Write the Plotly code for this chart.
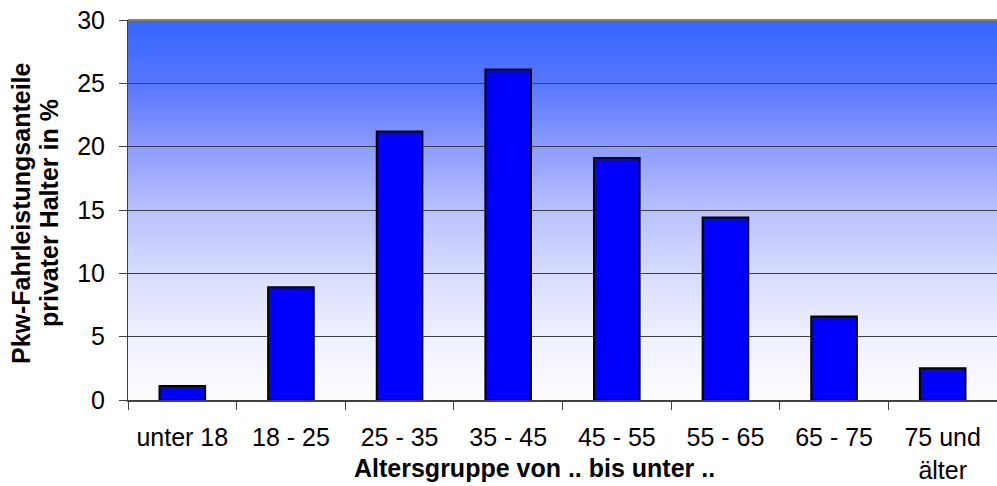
import plotly.graph_objects as go

categories = ["unter 18", "18 - 25", "25 - 35", "35 - 45", "45 - 55", "55 - 65", "65 - 75", "75 und<br>älter"]
values = [1.1, 8.9, 21.2, 26.1, 19.1, 14.4, 6.6, 2.5]
y_ticks = [0, 5, 10, 15, 20, 25, 30]
x_title = "Altersgruppe von .. bis unter .."
y_title_lines = ["Pkw-Fahrleistungsanteile", "privater Halter in %"]

FONT = "Liberation Sans, Arial, sans-serif"

# gradient background stops (fraction from bottom, rgb)
stops = [(0.0, (252, 252, 255)), (1/6, (238, 240, 255)), (2/6, (215, 220, 255)),
         (3/6, (185, 192, 255)), (4/6, (140, 155, 255)), (5/6, (88, 118, 255)),
         (1.0, (51, 102, 255))]

def col(f):
    for (f0, c0), (f1, c1) in zip(stops[:-1], stops[1:]):
        if f0 <= f <= f1:
            t = (f - f0) / (f1 - f0)
            return "rgb(%d,%d,%d)" % tuple(round(a + (b - a) * t) for a, b in zip(c0, c1))
    return "rgb(%d,%d,%d)" % stops[-1][1]

shapes = []
N = 120
for i in range(N):
    f0, f1 = i / N, (i + 1) / N
    shapes.append(dict(type="rect", xref="x domain", yref="y domain", x0=0, x1=1,
                       y0=f0, y1=min(f1 + 0.002, 1), fillcolor=col((f0 + f1) / 2),
                       line=dict(width=0), layer="below"))
shapes.append(dict(type="line", xref="x domain", yref="y domain", x0=0, x1=1, y0=1, y1=1,
                   line=dict(color="#808080", width=2), layer="above"))

fig = go.Figure(go.Bar(x=categories, y=values, width=0.42,
                       marker=dict(color="#0000FF", line=dict(color="black", width=2))))

W, H = 997, 486
L, R, T, B = 128, 0, 20, 86

def px_x(wx):  # pixel x -> paper fraction
    return (wx - L) / (W - L - R)

def px_y(wy):  # pixel y -> paper fraction
    return (H - B - wy) / (H - T - B)

annotations = [
    dict(text="<b>" + x_title + "</b>", xref="paper", yref="paper",
         x=px_x(534), y=px_y(468), xanchor="center", yanchor="middle", showarrow=False,
         font=dict(family=FONT, size=25)),
]
for line, cx in zip(y_title_lines, [21, 49]):
    annotations.append(dict(text="<b>" + line + "</b>", xref="paper", yref="paper",
                            x=px_x(cx), y=px_y(213), xanchor="center", yanchor="middle",
                            showarrow=False, textangle=-90, font=dict(family=FONT, size=25)))

fig.update_layout(
    template="none",
    width=W, height=H, margin=dict(l=L, r=R, t=T, b=B, autoexpand=False),
    paper_bgcolor="white", plot_bgcolor="white", showlegend=False,
    font=dict(family=FONT, size=25, color="black"),
    shapes=shapes,
    xaxis=dict(type="category", showline=True, linecolor="#404040", linewidth=2,
               ticks="outside", ticklen=8, tickcolor="#404040", tickwidth=1,
               tickson="boundaries", showgrid=False, ticklabelstandoff=14,
               ticklabeloverflow="allow",
               automargin=False, tickfont=dict(family=FONT, size=25)),
    yaxis=dict(range=[0, 30], tickvals=y_ticks, showline=True, linecolor="#404040", linewidth=1,
               ticks="outside", ticklen=8, tickcolor="#404040", tickwidth=1, showgrid=True,
               gridcolor="#404040", gridwidth=1, zeroline=False, ticklabelstandoff=9,
               ticklabeloverflow="allow",
               automargin=False, tickfont=dict(family=FONT, size=25)),
    annotations=annotations,
)

# remove the default 8px page margin so the figure fills the window exactly
fig.write_html("out.html", config={"displayModeBar": False},
               post_script="document.body.style.margin='0px';")
